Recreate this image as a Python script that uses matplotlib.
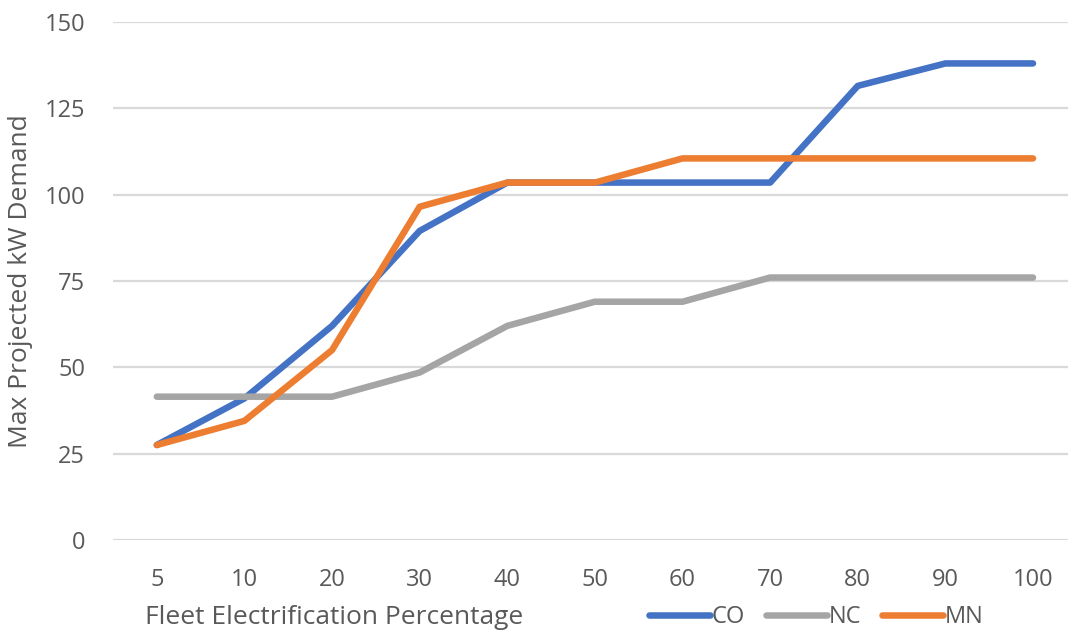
import matplotlib.pyplot as plt
import numpy as np

plt.rcParams['font.family'] = ['Open Sans', 'DejaVu Sans']

categories = ["5", "10", "20", "30", "40", "50", "60", "70", "80", "90", "100"]
co = [27.5, 41, 62, 89.5, 103.5, 103.5, 103.5, 103.5, 131.5, 138, 138]
nc = [41.5, 41.5, 41.5, 48.5, 62, 69, 69, 76, 76, 76, 76]
mn = [27.5, 34.5, 55, 96.5, 103.5, 103.5, 110.5, 110.5, 110.5, 110.5, 110.5]

fig = plt.figure(figsize=(10.68, 6.30), dpi=100)
ax = fig.add_axes([113 / 1068, 1 - 540 / 630, 1 - 113 / 1068, (540 - 22) / 630])

x = np.arange(len(categories))
ax.plot(x, co, color='#4472C4', lw=4.7, label='CO', solid_capstyle='round')
ax.plot(x, nc, color='#A5A5A5', lw=4.7, label='NC', solid_capstyle='round')
ax.plot(x, mn, color='#ED7D31', lw=4.7, label='MN', solid_capstyle='round')

ax.set_xlim(-0.5, (1068 - 157) / 87.6)
ax.set_ylim(0, 150)
ax.set_yticks(np.arange(0, 151, 25))
ax.set_xticks(x)
ax.set_xticklabels(categories)
ax.yaxis.grid(True, color='#D9D9D9', lw=1.6)
ax.set_axisbelow(True)
for s in ax.spines.values():
    s.set_visible(False)
ax.tick_params(length=0, labelsize=17, labelcolor='#595959')
ax.tick_params(axis='x', pad=20)
ax.tick_params(axis='y', pad=20)

ax.set_ylabel("Max Projected kW Demand", fontsize=19, color='#595959', labelpad=8)
fig.text(145 / 1068, 1 - 617 / 630, "Fleet Electrification Percentage",
         fontsize=19, color='#595959', va='center', ha='left')

fig.legend(loc='center', bbox_to_anchor=(816 / 1068, 1 - 617 / 630), ncol=3,
           frameon=False, fontsize=17, labelcolor='#595959', handlelength=2.6,
           handletextpad=0.05, columnspacing=0.9)

fig.savefig('out.png', dpi=100)
